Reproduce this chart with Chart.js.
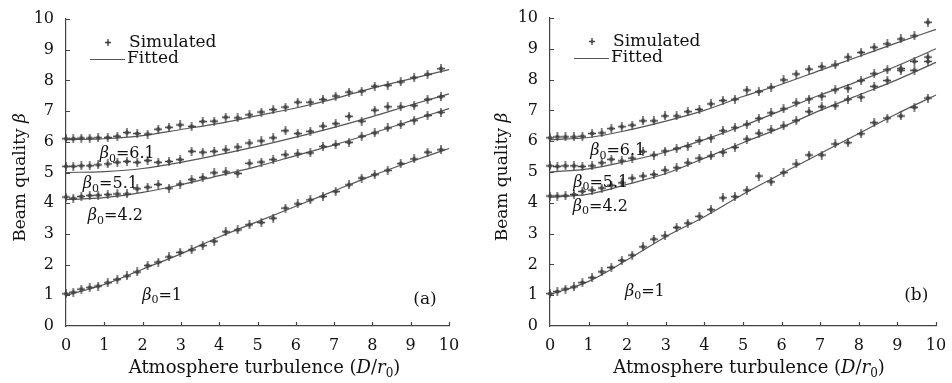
<!DOCTYPE html>
<html>
<head>
<meta charset="utf-8">
<script src="https://cdn.jsdelivr.net/npm/chart.js@4.4.0/dist/chart.umd.min.js"></script>
<style>
html, body { margin: 0; padding: 0; background: #fff; }
#wrap { position: relative; width: 952px; height: 383px; }
.panel { position: absolute; top: 0; width: 476px; height: 383px; }
</style>
</head>
<body>
<div id="wrap">
  <div class="panel" style="left:0"><canvas id="chartA"></canvas></div>
  <div class="panel" style="left:476px"><canvas id="chartB"></canvas></div>
</div>
<script>
// turbulence values D/r0 of the simulated points
var xSim = [0, 0.19, 0.4, 0.62, 0.84, 1.09, 1.34, 1.59, 1.86, 2.13, 2.41, 2.69, 2.98, 3.28, 3.57, 3.87, 4.17,
            4.48, 4.79, 5.1, 5.41, 5.73, 6.05, 6.38, 6.71, 7.04, 7.39, 7.72, 8.06, 8.4, 8.74, 9.09, 9.44, 9.79];
var xFit = [0, 1, 2, 3, 4, 5, 6, 7, 8, 9, 10];

// panel (a)
var simA61 = [6.1, 6.1, 6.12, 6.12, 6.13, 6.14, 6.18, 6.3, 6.27, 6.25, 6.41, 6.47, 6.55, 6.5, 6.66, 6.67, 6.8,
              6.78, 6.88, 6.97, 7.05, 7.13, 7.29, 7.29, 7.38, 7.49, 7.62, 7.65, 7.81, 7.84, 7.95, 8.09, 8.2, 8.38];
var simA51 = [5.2, 5.2, 5.22, 5.22, 5.25, 5.28, 5.33, 5.36, 5.33, 5.39, 5.33, 5.36, 5.42, 5.69, 5.66, 5.69, 5.74,
              5.83, 5.96, 6.03, 6.13, 6.36, 6.27, 6.34, 6.51, 6.59, 6.83, 6.67, 7.03, 7.14, 7.14, 7.18, 7.38, 7.47];
var simA42 = [4.2, 4.16, 4.22, 4.25, 4.26, 4.28, 4.3, 4.3, 4.47, 4.52, 4.61, 4.49, 4.62, 4.77, 4.84, 4.99, 5.02,
              4.97, 5.3, 5.34, 5.42, 5.58, 5.61, 5.64, 5.85, 5.91, 5.98, 6.18, 6.29, 6.45, 6.56, 6.7, 6.86, 6.96];
var simA1  = [1.05, 1.1, 1.2, 1.25, 1.3, 1.41, 1.52, 1.63, 1.76, 1.97, 2.08, 2.25, 2.4, 2.48, 2.62, 2.76, 3.07,
              3.13, 3.3, 3.37, 3.51, 3.84, 3.98, 4.11, 4.22, 4.38, 4.6, 4.82, 4.93, 5.07, 5.29, 5.44, 5.66, 5.74];
var fitA61 = [6.07, 6.1, 6.2, 6.4, 6.6, 6.85, 7.1, 7.4, 7.75, 8.05, 8.35];
var fitA51 = [5.0, 5.03, 5.13, 5.33, 5.58, 5.85, 6.15, 6.47, 6.82, 7.2, 7.56];
var fitA42 = [4.12, 4.18, 4.35, 4.6, 4.9, 5.2, 5.55, 5.9, 6.28, 6.68, 7.08];
var fitA1  = [1.0, 1.35, 1.85, 2.35, 2.9, 3.4, 3.9, 4.4, 4.9, 5.35, 5.78];

// panel (b)
var simB61 = [6.11, 6.14, 6.14, 6.14, 6.16, 6.25, 6.27, 6.41, 6.47, 6.52, 6.66, 6.66, 6.82, 6.82, 6.96, 7.03, 7.21,
              7.32, 7.36, 7.66, 7.61, 7.75, 7.99, 8.18, 8.34, 8.42, 8.48, 8.73, 8.88, 9.05, 9.16, 9.32, 9.42, 9.86];
var simB51 = [5.2, 5.18, 5.2, 5.2, 5.18, 5.2, 5.3, 5.41, 5.36, 5.45, 5.66, 5.55, 5.68, 5.76, 5.84, 6.02, 6.1,
              6.34, 6.44, 6.55, 6.74, 6.92, 7.05, 7.25, 7.37, 7.46, 7.67, 7.72, 7.97, 8.19, 8.32, 8.36, 8.59, 8.73];
var simB42 = [4.22, 4.22, 4.23, 4.27, 4.37, 4.41, 4.48, 4.57, 4.65, 4.8, 4.87, 4.92, 5.06, 5.14, 5.3, 5.45, 5.52,
              5.64, 5.8, 6.07, 6.26, 6.37, 6.5, 6.67, 6.96, 7.12, 7.15, 7.36, 7.43, 7.78, 7.97, 8.3, 8.3, 8.59];
var simB1  = [1.05, 1.12, 1.2, 1.27, 1.41, 1.57, 1.76, 1.9, 2.13, 2.3, 2.57, 2.82, 2.93, 3.2, 3.34, 3.56, 3.78,
              4.16, 4.2, 4.41, 4.87, 4.68, 4.98, 5.26, 5.55, 5.55, 5.91, 5.95, 6.24, 6.6, 6.75, 6.82, 7.1, 7.4];
var fitB61 = [6.05, 6.12, 6.35, 6.65, 7.0, 7.45, 7.85, 8.3, 8.75, 9.2, 9.63];
var fitB51 = [5.0, 5.1, 5.35, 5.65, 6.05, 6.5, 7.0, 7.5, 7.95, 8.45, 9.0];
var fitB42 = [4.18, 4.28, 4.6, 4.95, 5.45, 5.95, 6.45, 7.0, 7.5, 8.0, 8.56];
var fitB1  = [1.02, 1.45, 2.15, 2.9, 3.55, 4.28, 4.95, 5.6, 6.25, 6.9, 7.5];

var xTicks = [0, 1, 2, 3, 4, 5, 6, 7, 8, 9, 10];
var yTicks = [0, 1, 2, 3, 4, 5, 6, 7, 8, 9, 10];

// beta0 labels: [value text, x, y (baseline)] in data units
var notesA = [['6.1', 0.88, 5.47], ['5.1', 0.44, 4.49], ['4.2', 0.57, 3.45], ['1', 1.99, 0.86]];
var notesB = [['6.1', 1.04, 5.55], ['5.1', 0.6, 4.52], ['4.2', 0.59, 3.74], ['1', 1.94, 0.98]];

var FONT = '"DejaVu Serif", "Liberation Serif", serif';
var INK = '#111';
var GREY = '#555';

function makeStar(w, h, blob) {
    var c = document.createElement('canvas');
    c.width = w; c.height = h;
    var g = c.getContext('2d');
    var mx = w / 2, my = h / 2;
    g.strokeStyle = '#444';
    g.fillStyle = '#444';
    g.lineWidth = 1.3;
    g.beginPath();
    g.moveTo(mx, 0); g.lineTo(mx, h);
    g.moveTo(0, my); g.lineTo(w, my);
    g.stroke();
    g.beginPath();
    g.moveTo(mx, my - blob); g.lineTo(mx + blob, my); g.lineTo(mx, my + blob); g.lineTo(mx - blob, my);
    g.closePath();
    g.fill();
    return c;
}
var star = makeStar(8, 9, 2.8);
var starSmall = makeStar(6, 7, 1.8);

function pts(xs, ys) {
    return xs.map(function (x, i) { return { x: x, y: ys[i] }; });
}

function drawRich(ctx, segs, x, y, size, align) {
    var parts = segs.map(function (s) {
        var f = (s.it ? 'italic ' : '') + (s.sub ? Math.round(size * 0.68) : size) + 'px ' + FONT;
        ctx.font = f;
        return { s: s, f: f, w: ctx.measureText(s.t).width };
    });
    var total = parts.reduce(function (a, p) { return a + p.w; }, 0);
    var sx = align === 'center' ? x - total / 2 : (align === 'right' ? x - total : x);
    ctx.textAlign = 'left';
    parts.forEach(function (p) {
        ctx.font = p.f;
        ctx.fillText(p.s.t, sx, y + (p.s.sub ? size * 0.22 : 0));
        sx += p.w;
    });
}

function decorPlugin(cfg) {
    return {
        id: 'decor',
        afterDraw: function (chart) {
            var ctx = chart.ctx;
            var a = chart.chartArea;
            var xs = chart.scales.x, ys = chart.scales.y;
            ctx.save();
            // inward tick marks
            ctx.strokeStyle = '#444';
            ctx.lineWidth = 1.2;
            ctx.beginPath();
            xTicks.forEach(function (v) {
                if (v === 0) return;
                var px = Math.round(xs.getPixelForValue(v)) + 0.5;
                ctx.moveTo(px, a.bottom); ctx.lineTo(px, a.bottom - 4);
            });
            yTicks.forEach(function (v) {
                if (v === 0) return;
                var py = Math.round(ys.getPixelForValue(v)) + 0.5;
                ctx.moveTo(a.left, py); ctx.lineTo(a.left + 4, py);
            });
            ctx.stroke();

            ctx.fillStyle = INK;
            ctx.textBaseline = 'alphabetic';
            // x title
            drawRich(ctx, [{ t: 'Atmosphere turbulence (' }, { t: 'D', it: true }, { t: '/' },
                           { t: 'r', it: true }, { t: '0', sub: true }, { t: ')' }],
                     (a.left + a.right) / 2 + cfg.xTitleShift, 373, 18, 'center');
            // y title
            ctx.save();
            ctx.translate(cfg.yTitleX, (a.top + a.bottom) / 2 + 5);
            ctx.rotate(-Math.PI / 2);
            drawRich(ctx, [{ t: 'Beam quality ' }, { t: 'β', it: true }], 0, 0, 17, 'center');
            ctx.restore();

            // beta0 notes
            cfg.notes.forEach(function (n) {
                drawRich(ctx, [{ t: 'β', it: true }, { t: '0', sub: true }, { t: '=' + n[0] }],
                         xs.getPixelForValue(n[1]), ys.getPixelForValue(n[2]), 16, 'left');
            });
            // panel tag
            drawRich(ctx, [{ t: cfg.tag }], xs.getPixelForValue(cfg.tagX), ys.getPixelForValue(cfg.tagY), 17, 'right');

            // legend
            var lx = a.left + 24, ly = a.top;
            ctx.drawImage(starSmall, lx + 18 - 3, ly + 23.5 - 3.5);
            drawRich(ctx, [{ t: 'Simulated' }], lx + 39, ly + 28, 17, 'left');
            ctx.strokeStyle = GREY;
            ctx.lineWidth = 1.2;
            ctx.beginPath();
            ctx.moveTo(lx, ly + 40.5); ctx.lineTo(lx + 35, ly + 40.5);
            ctx.stroke();
            drawRich(ctx, [{ t: 'Fitted' }], lx + 37, ly + 44, 17, 'left');
            ctx.restore();
        }
    };
}

function simSet(ys) {
    return { data: pts(xSim, ys), showLine: false, pointStyle: star, pointRadius: 4.5,
             pointHoverRadius: 4.5, clip: false, order: 1 };
}
function fitSet(ys) {
    return { data: pts(xFit, ys), showLine: true, pointRadius: 0, borderColor: GREY, borderWidth: 1.2,
             cubicInterpolationMode: 'monotone', clip: false, order: 2 };
}

function makeChart(id, sims, fits, cfg) {
    var tickFont = { family: FONT, size: 16 };
    return new Chart(document.getElementById(id), {
        type: 'scatter',
        data: { datasets: fits.map(fitSet).concat(sims.map(simSet)) },
        options: {
            responsive: true,
            maintainAspectRatio: false,
            animation: false,
            devicePixelRatio: 1,
            layout: { padding: { left: 0, right: cfg.padRight, top: cfg.padTop, bottom: 0 } },
            plugins: { legend: { display: false }, tooltip: { enabled: false } },
            scales: {
                x: {
                    type: 'linear', min: 0, max: 10,
                    afterBuildTicks: function (s) { s.ticks = xTicks.map(function (v) { return { value: v }; }); },
                    ticks: { font: tickFont, color: INK, padding: 10, maxRotation: 0, autoSkip: false },
                    grid: { display: false, drawTicks: false },
                    border: { display: true, color: '#444', width: 1.2 },
                    afterFit: function (s) { s.height = 57; s.paddingLeft = 0; s.paddingRight = 0; }
                },
                y: {
                    type: 'linear', min: 0, max: 10,
                    afterBuildTicks: function (s) { s.ticks = yTicks.map(function (v) { return { value: v }; }); },
                    ticks: { font: tickFont, color: INK, padding: 12, autoSkip: false },
                    grid: { display: false, drawTicks: false },
                    border: { display: true, color: '#444', width: 1.2 },
                    afterFit: function (s) { s.width = cfg.yWidth; s.paddingTop = 0; s.paddingBottom = 0; }
                }
            }
        },
        plugins: [decorPlugin(cfg)]
    });
}

makeChart('chartA', [simA61, simA51, simA42, simA1], [fitA61, fitA51, fitA42, fitA1],
    { yWidth: 66, padRight: 27, padTop: 19, yTitleX: 25, xTitleShift: 7, notes: notesA, tag: '(a)', tagX: 9.68, tagY: 0.72 });
makeChart('chartB', [simB61, simB51, simB42, simB1], [fitB61, fitB51, fitB42, fitB1],
    { yWidth: 74, padRight: 16, padTop: 18, yTitleX: 31, xTitleShift: 6, notes: notesB, tag: '(b)', tagX: 9.8, tagY: 0.84 });
</script>
</body>
</html>
